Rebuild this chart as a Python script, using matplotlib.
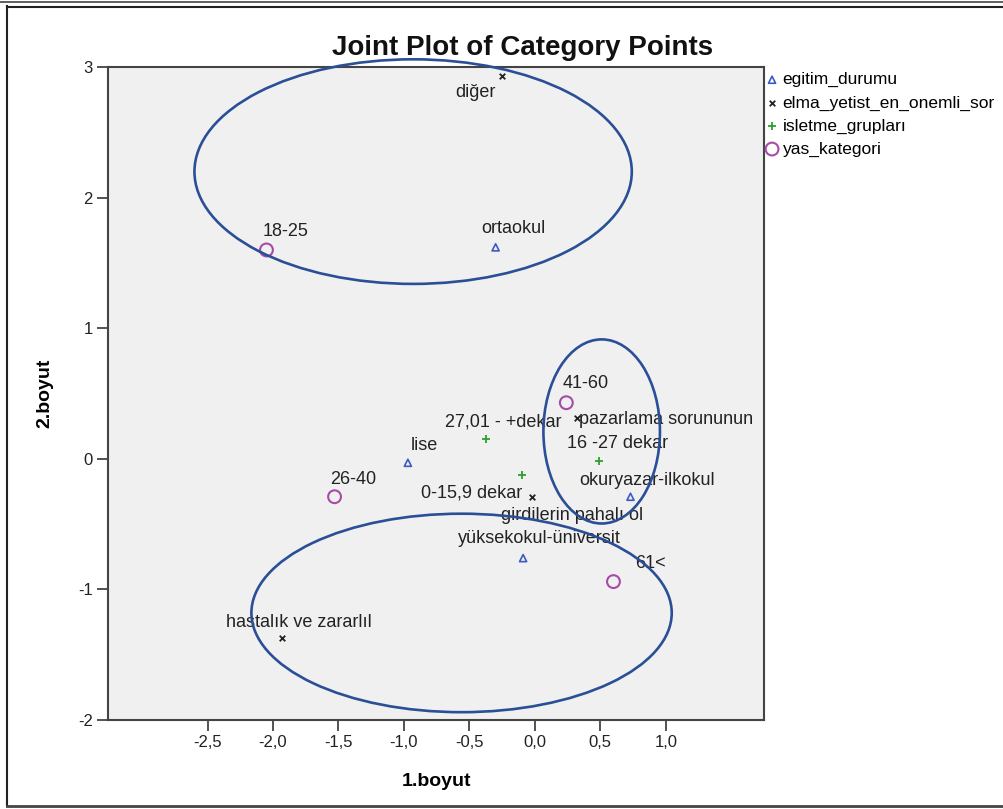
import matplotlib.pyplot as plt
from matplotlib.patches import Ellipse
from matplotlib.lines import Line2D

plt.rcParams['font.family'] = ['Liberation Sans', 'DejaVu Sans']

# category points per variable (dimension 1, dimension 2)
egitim_labels = ['ortaokul', 'lise', 'okuryazar-ilkokul', 'yüksekokul-üniversit']
egitim_x = [-0.30, -0.97, 0.73, -0.09]
egitim_y = [1.62, -0.03, -0.29, -0.76]

sorun_labels = ['diğer', 'pazarlama sorununun', 'girdilerin pahalı ol', 'hastalık ve zararlıl']
sorun_x = [-0.25, 0.32, -0.02, -1.93]
sorun_y = [2.93, 0.31, -0.29, -1.37]

isletme_labels = ['27,01 - +dekar', '16 -27 dekar', '0-15,9 dekar']
isletme_x = [-0.37, 0.49, -0.10]
isletme_y = [0.15, -0.02, -0.12]

yas_labels = ['18-25', '41-60', '26-40', '61<']
yas_x = [-2.05, 0.24, -1.53, 0.60]
yas_y = [1.60, 0.43, -0.29, -0.94]

# group outlines: centre x, centre y, width, height
groups = [(-0.93, 2.20, 3.34, 1.72),
          (0.51, 0.21, 0.89, 1.41),
          (-0.56, -1.18, 3.21, 1.52)]

# label offsets in pixels (dx, dy) from each point
egitim_off = [(-14, 14), (3, 13), (-51, 12), (-65, 15)]
sorun_off = [(-47, -21), (2, -6), (-31, -23), (-56, 11)]
isletme_off = [(-41, 13), (-32, 13), (-101, -23)]
yas_off = [(-4, 14), (-4, 15), (-4, 13), (22, 14)]

fig = plt.figure(figsize=(10.04, 8.09), dpi=100)
ax = fig.add_axes([0.1076, 0.110, 0.6534, 0.807])
ax.set_facecolor('#f0f0f0')

ax.set_xlim(-3.26, 1.75)
ax.set_ylim(-2, 3)

ax.scatter(egitim_x, egitim_y, marker='^', s=26, facecolors='none', edgecolors='#3a5cc0',
           linewidths=1.2, label='egitim_durumu', zorder=3)
ax.scatter(sorun_x, sorun_y, marker='x', s=16, color='#222222', linewidths=1.3,
           label='elma_yetist_en_onemli_sor', zorder=3)
ax.scatter(isletme_x, isletme_y, marker='+', s=32, color='#2ca02c', linewidths=1.3,
           label='isletme_grupları', zorder=3)
ax.scatter(yas_x, yas_y, marker='o', s=85, facecolors='none', edgecolors='#a64ca6',
           linewidths=1.5, label='yas_kategori', zorder=3)

pt = 72 / 100  # pixels to points
for labels, xs, ys, offs in [(egitim_labels, egitim_x, egitim_y, egitim_off),
                             (sorun_labels, sorun_x, sorun_y, sorun_off),
                             (isletme_labels, isletme_x, isletme_y, isletme_off),
                             (yas_labels, yas_x, yas_y, yas_off)]:
    for lab, x, y, (dx, dy) in zip(labels, xs, ys, offs):
        ax.annotate(lab, (x, y), xytext=(dx * pt, dy * pt), textcoords='offset points',
                    ha='left', va='baseline', fontsize=13, color='#222222', zorder=4)

for cx, cy, w, h in groups:
    ax.add_patch(Ellipse((cx, cy), w, h, fill=False, edgecolor='#2a4f96', linewidth=1.9,
                         clip_on=False, zorder=5))

xt = [-2.5, -2.0, -1.5, -1.0, -0.5, 0.0, 0.5, 1.0]
ax.set_xticks(xt)
ax.set_xticklabels([f'{v:.1f}'.replace('.', ',') for v in xt])
ax.set_yticks([-2, -1, 0, 1, 2, 3])
ax.set_yticklabels(['-2', '-1', '0', '1', '2', '3'])
ax.tick_params(direction='out', length=8, width=1.3, color='#444444', labelsize=12,
               labelcolor='#222222', pad=3)
for s in ax.spines.values():
    s.set_color('#444444')
    s.set_linewidth(1.5)

fig.text(0.52, 0.932, 'Joint Plot of Category Points', fontsize=20, fontweight='bold',
         ha='center', va='baseline', color='#111111')
ax.set_xlabel('1.boyut', fontsize=14, fontweight='bold', labelpad=16)
ax.set_ylabel('2.boyut', fontsize=14, fontweight='bold', labelpad=18)

ax.legend(loc='upper left', bbox_to_anchor=(0.995, 1.003), frameon=False, fontsize=12.5,
          handlelength=0.5, handletextpad=0.35, labelspacing=0.45, borderaxespad=0.2,
          borderpad=0.2, scatterpoints=1)

# outer frame
fig.add_artist(Line2D([0.007, 0.007], [0.004, 0.992], color='#222222', lw=1.5))
fig.add_artist(Line2D([0.007, 1.0], [0.004, 0.004], color='#444444', lw=2.0))
fig.add_artist(Line2D([0.0, 1.0], [0.997, 0.997], color='#444444', lw=1.2))
fig.add_artist(Line2D([0.007, 1.0], [0.991, 0.991], color='#222222', lw=1.5))

fig.savefig('out.png', dpi=100)
